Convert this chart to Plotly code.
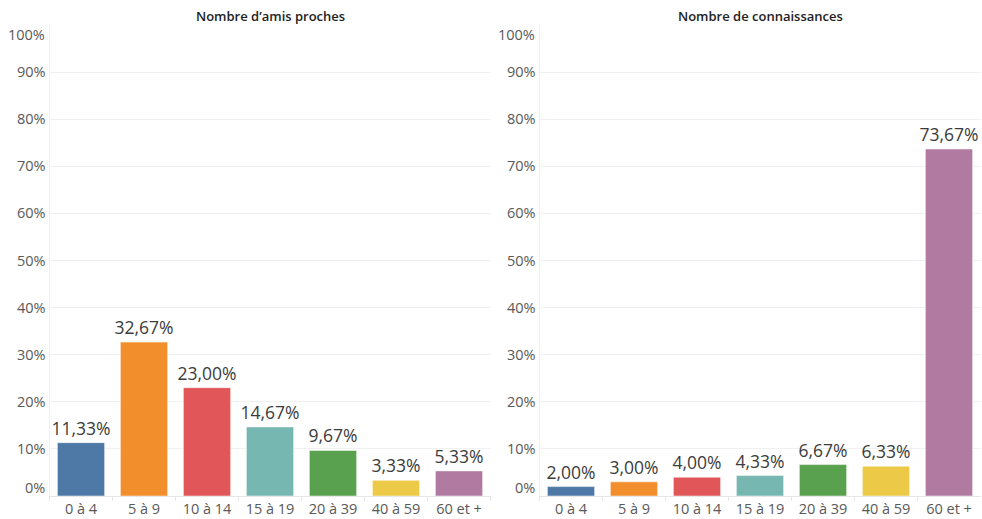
import plotly.graph_objects as go
from plotly.subplots import make_subplots

categories = ["0 à 4", "5 à 9", "10 à 14", "15 à 19", "20 à 39", "40 à 59", "60 et +"]
amis_proches = [11.33, 32.67, 23.00, 14.67, 9.67, 3.33, 5.33]
connaissances = [2.00, 3.00, 4.00, 4.33, 6.67, 6.33, 73.67]
colors = ["#4e79a7", "#f28e2b", "#e15759", "#76b7b2", "#59a14f", "#edc948", "#b07aa1"]
titles = ["Nombre d\u2019amis proches", "Nombre de connaissances"]
ytick_vals = [10, 20, 30, 40, 50, 60, 70, 80, 90]
ytick_text = [f"{v}%" for v in ytick_vals]

W, H = 982, 519
FONT = "'Open Sans', Lato, sans-serif"
TICK_COLOR = "#595959"
TICK_SIZE = 14.5

fig = make_subplots(rows=1, cols=2)

def fmt(v):
    return f"{v:.2f}".replace(".", ",") + "%"

for i, vals in enumerate([amis_proches, connaissances]):
    fig.add_trace(go.Bar(
        x=categories, y=vals,
        marker=dict(color=colors, line=dict(color="rgba(255,255,255,0.5)", width=1)),
        text=[fmt(v) for v in vals], textposition="outside", constraintext="none",
        textfont=dict(size=17.5, color="#3c3c3c", family=FONT),
        cliponaxis=False, showlegend=False,
    ), row=1, col=i + 1)

x_domains = [[49.5 / W, 490.5 / W], [539.5 / W, 980.5 / W]]
y_domain = [(H - 496) / H, (H - 25) / H]

for i in range(2):
    xa = "xaxis" if i == 0 else "xaxis2"
    ya = "yaxis" if i == 0 else "yaxis2"
    fig.layout[xa].update(
        domain=x_domains[i], showgrid=False, showline=True, linecolor="#e6e6e6",
        tickfont=dict(size=TICK_SIZE, color=TICK_COLOR, family=FONT),
        ticks="outside", tickson="boundaries", ticklen=4, tickcolor="#e6e6e6",
        automargin=False,
    )
    fig.layout[ya].update(
        domain=y_domain, range=[0, 100], tickvals=ytick_vals, ticktext=ytick_text,
        showgrid=True, gridcolor="#f0f0f0", gridwidth=1, zeroline=False,
        showline=True, linecolor="#f0f0f0", automargin=False,
        tickfont=dict(size=TICK_SIZE, color=TICK_COLOR, family=FONT), ticklen=0,
    )
    yref = "y" if i == 0 else "y2"
    xref_dom = "x domain" if i == 0 else "x2 domain"
    for v, lab, shift in [(0, "0%", 9), (100, "100%", -9)]:
        fig.add_annotation(x=0, y=v, xref=xref_dom, yref=yref, text=lab, showarrow=False,
                           xanchor="right", xshift=-3, yshift=shift,
                           font=dict(size=TICK_SIZE, color=TICK_COLOR, family=FONT))
    fig.add_annotation(x=(x_domains[i][0] + x_domains[i][1]) / 2, y=(H - 16) / H,
                       xref="paper", yref="paper", text=titles[i], showarrow=False,
                       font=dict(size=13, color="#222222", family=FONT, weight=600),
                       xanchor="center", yanchor="middle")

fig.update_layout(
    width=W, height=H, margin=dict(l=0, r=0, t=0, b=0, autoexpand=False),
    plot_bgcolor="white", paper_bgcolor="white", bargap=0.25,
    font=dict(family=FONT),
)

fig.write_html("out.html", config={"displayModeBar": False},
               post_script="document.body.style.margin='0';document.body.style.padding='0';")
